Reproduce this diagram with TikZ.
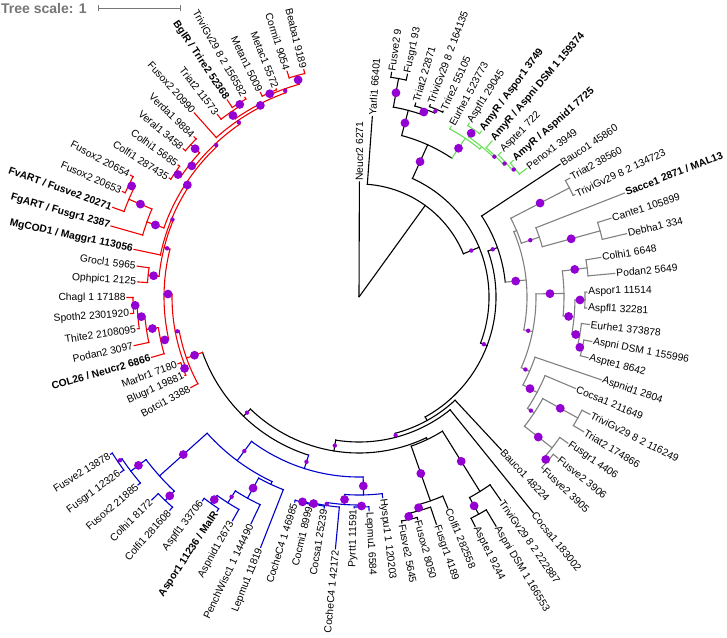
\documentclass[tikz,border=0pt]{standalone}
\usepackage{fontspec}
\setmainfont{Liberation Sans}
\definecolor{dotc}{RGB}{148,0,211}
\definecolor{cR}{RGB}{240,0,0}
\definecolor{cB}{RGB}{0,0,205}
\definecolor{cG}{RGB}{105,225,85}
\definecolor{cY}{RGB}{128,128,128}
\definecolor{cK}{RGB}{0,0,0}
\definecolor{cT}{RGB}{118,118,118}
\pgfdeclarelayer{fg}
\pgfsetlayers{main,fg}
\tikzset{
  br/.style={line width=1.1pt,line cap=rect},
  lab/.style={inner sep=1.3pt,font=\fontsize{10.3}{12}\selectfont},
}
\newcommand\setv[3]{\expandafter\xdef\csname T#1@#2\endcsname{#3}}
\newcommand\getv[2]{\csname T#1@#2\endcsname}
\newcommand\Lf[4]{%
  \pgfmathsetmacro\tmpLA{89.8-4.025*#1}%
  \setv{A}{l#1}{\tmpLA}\setv{R}{l#1}{#2}\setv{C}{l#1}{#3}\setv{D}{l#1}{0}%
  \pgfmathsetmacro\tmpLC{cos(\tmpLA)}%
  \ifdim\tmpLC pt>0pt\relax
    \node[lab,anchor=west,rotate=\tmpLA] (lab#1) at (\tmpLA:#2) {#4};%
  \else
    \pgfmathsetmacro\tmpLR{\tmpLA+180}%
    \node[lab,anchor=east,rotate=\tmpLR] (lab#1) at (\tmpLA:#2) {#4};%
  \fi}
\newcommand\In[5]{%
  \gdef\amin{1000}\gdef\amax{-1000}%
  \foreach \ch in {#5}{%
    \pgfmathsetmacro\tmpT{\getv{A}{\ch}}%
    \pgfmathsetmacro\tmpU{min(\amin,\tmpT)}\global\let\amin\tmpU
    \pgfmathsetmacro\tmpU{max(\amax,\tmpT)}\global\let\amax\tmpU
  }%
  \pgfmathsetmacro\amid{(\amin+\amax)/2}%
  \setv{A}{#1}{\amid}\setv{R}{#1}{#2}\setv{C}{#1}{#3}\setv{D}{#1}{#4}%
  \draw[br,color=#3] (\amax:#2) arc[start angle=\amax,end angle=\amin,radius=#2];
  \foreach \ch in {#5}{%
    \edef\tmpA{\getv{A}{\ch}}\edef\tmpR{\getv{R}{\ch}}%
    \edef\tmpC{\getv{C}{\ch}}\edef\tmpD{\getv{D}{\ch}}%
    \draw[br,color=\tmpC] (\tmpA:#2) -- (\tmpA:\tmpR);
    \pgfmathsetmacro\tmpM{(#2+\tmpR)/2}%
    \ifnum\tmpD=2 \begin{pgfonlayer}{fg}\fill[dotc] (\tmpA:\tmpM) circle[radius=4.4pt];\end{pgfonlayer}\fi
    \ifnum\tmpD=1 \begin{pgfonlayer}{fg}\fill[dotc] (\tmpA:\tmpM) circle[radius=2.2pt];\end{pgfonlayer}\fi
  }%
}
\begin{document}
\begin{tikzpicture}[x=1pt,y=1pt]
\useasboundingbox (0,0) rectangle (727,-637);
% tree scale
\node[anchor=west,inner sep=0pt,text=cT,font=\bfseries\fontsize{14}{16}\selectfont] (ts) at (1,-8.5) {Tree scale: 1};
\coordinate (sb1) at (98,-8.3);
\coordinate (sb2) at (180,-8.3);
\draw[cT,line width=0.8pt] (sb1) -- (sb2);
\draw[cT,line width=0.8pt] ([yshift=3pt]sb1) -- ([yshift=-3pt]sb1);
\draw[cT,line width=0.8pt] ([yshift=3pt]sb2) -- ([yshift=-3pt]sb2);
\begin{scope}[shift={(359,-297)}]
% leaves
\Lf{0}{115}{cK}{Neucr2 6271}
\Lf{1}{181}{cK}{Yarli1 66401}
\Lf{2}{227}{cK}{Fusve2 9}
\Lf{3}{228}{cK}{Fusgr1 93}
\Lf{4}{202}{cK}{Triat2 22871}
\Lf{5}{205}{cK}{TriviGv29 8 2 164135}
\Lf{6}{204}{cK}{Trire2 55105}
\Lf{7}{194}{cG}{Eurhe1 523773}
\Lf{8}{206}{cG}{Aspfl1 29045}
\Lf{9}{206}{cG}{\textbf{AmyR / Aspor1 3749}}
\Lf{10}{205}{cG}{\textbf{AmyR / Aspni DSM 1 159374}}
\Lf{11}{203}{cG}{Aspte1 722}
\Lf{12}{206}{cG}{\textbf{AmyR / Aspnid1 7725}}
\Lf{13}{211}{cG}{Penox1 3949}
\Lf{14}{241}{cK}{Bauco1 45860}
\Lf{15}{242}{cY}{Triat2 38560}
\Lf{16}{239}{cY}{TriviGv29 8 2 134723}
\Lf{17}{285}{cY}{\textbf{Sacce1 2871 / MAL13}}
\Lf{18}{264}{cY}{Cante1 105899}
\Lf{19}{275}{cY}{Debha1 334}
\Lf{20}{245}{cY}{Colhi1 6648}
\Lf{21}{257}{cY}{Podan2 5649}
\Lf{22}{228}{cY}{Aspor1 11514}
\Lf{23}{228}{cY}{Aspfl1 32281}
\Lf{24}{232}{cY}{Eurhe1 373878}
\Lf{25}{237}{cY}{Aspni DSM 1 155996}
\Lf{26}{237}{cY}{Aspte1 8642}
\Lf{27}{256}{cY}{Aspnid1 2804}
\Lf{28}{235}{cY}{Cocsa1 211649}
\Lf{29}{259}{cY}{TriviGv29 8 2 116249}
\Lf{30}{262}{cY}{Triat2 174866}
\Lf{31}{255}{cY}{Fusgr1 4406}
\Lf{32}{256}{cY}{Fusve2 3906}
\Lf{33}{252}{cY}{Fusve2 3905}
\Lf{34}{209}{cK}{Bauco1 48224}
\Lf{35}{277}{cK}{Cocsa1 183002}
\Lf{36}{248}{cK}{TriviGv29 8 2 222887}
\Lf{37}{267}{cK}{Aspni DSM 1 166553}
\Lf{38}{257}{cK}{Aspte1 9244}
\Lf{39}{229}{cK}{Colfi1 282558}
\Lf{40}{240}{cK}{Fusgr1 4189}
\Lf{41}{230}{cK}{Fusox2 8050}
\Lf{42}{230}{cK}{Fusve2 5645}
\Lf{43}{202}{cB}{Hyspu1 1 120203}
\Lf{44}{214}{cB}{Lepmu1 6584}
\Lf{45}{211}{cB}{Pyrtt1 11591}
\Lf{46}{253}{cB}{CocheC4 1 42172}
\Lf{47}{214}{cB}{Cocsa1 25239}
\Lf{48}{214}{cB}{Cocmi1 8999}
\Lf{49}{215}{cB}{CocheC4 1 46985}
\Lf{50}{269}{cB}{Lepmu1 11819}
\Lf{51}{251}{cB}{PenchWisc1 1 144490}
\Lf{52}{257}{cB}{Aspnid1 2673}
\Lf{53}{257}{cB}{\textbf{Aspor1 11236 / MalR}}
\Lf{54}{257}{cB}{Aspfl1 33706}
\Lf{55}{285}{cB}{Colfi1 281608}
\Lf{56}{290}{cB}{Colhi1 8172}
\Lf{57}{290}{cB}{Fusox2 21885}
\Lf{58}{296}{cB}{Fusgr1 12326}
\Lf{59}{294}{cB}{Fusve2 13878}
\Lf{60}{191}{cR}{Botci1 3388}
\Lf{61}{191}{cR}{Blugr1 19881}
\Lf{62}{193}{cR}{Marbr1 7180}
\Lf{63}{216}{cR}{\textbf{COL26 / Neucr2 6866}}
\Lf{64}{230}{cR}{Podan2 3097}
\Lf{65}{224}{cR}{Thite2 2108095}
\Lf{66}{229}{cR}{Spoth2 2301920}
\Lf{67}{232}{cR}{Chagl 1 17188}
\Lf{68}{222}{cR}{Ophpic1 2125}
\Lf{69}{224}{cR}{Grocl1 5965}
\Lf{70}{230}{cR}{\textbf{MgCOD1 / Maggr1 113056}}
\Lf{71}{258}{cR}{\textbf{FgART / Fusgr1 2387}}
\Lf{72}{262}{cR}{\textbf{FvART / Fusve2 20271}}
\Lf{73}{259}{cR}{Fusox2 20653}
\Lf{74}{259}{cR}{Fusox2 20654}
\Lf{75}{224}{cR}{Colfi1 287435}
\Lf{76}{224}{cR}{Colhi1 5685}
\Lf{77}{230}{cR}{Veral1 3458}
\Lf{78}{230}{cR}{Verda1 9884}
\Lf{79}{247}{cR}{Fusox2 20990}
\Lf{80}{231}{cR}{Triat2 11573}
\Lf{81}{237}{cR}{\textbf{BglR / Trire2 52368}}
\Lf{82}{230}{cR}{TriviGv29 8 2 156582}
\Lf{83}{227}{cR}{Metan1 5009}
\Lf{84}{224}{cR}{Metac1 5572}
\Lf{85}{237}{cR}{Cormi1 9054}
\Lf{86}{234}{cR}{Beaba1 9189}
% top black
\In{F2}{222}{cK}{2}{l2,l3}
\In{F4}{203}{cK}{1}{l5,l6}
\In{F3}{199}{cK}{2}{l4,F4}
\In{F1}{193}{cK}{2}{F2,F3}
% green
\In{G6}{202}{cG}{1}{l12,l13}
\In{G5}{199}{cG}{1}{l11,G6}
\In{G4}{196}{cG}{1}{l10,G5}
\In{G3}{203}{cG}{2}{l8,l9}
\In{G2}{194}{cG}{0}{G3,G4}
\In{G1}{191}{cG}{2}{l7,G2}
\In{P}{167}{cK}{2}{F1,G1}
% gray
\In{GA}{237}{cY}{2}{l15,l16}
\In{GD}{250}{cY}{2}{l18,l19}
\In{GC}{190}{cY}{1}{l17,GD}
\In{GB}{171}{cY}{0}{GA,GC}
\In{GE}{230}{cY}{2}{l20,l21}
\In{GFb}{226}{cY}{2}{l22,l23}
\In{GFe}{229}{cY}{2}{l25,l26}
\In{GFd}{224}{cY}{2}{l24,GFe}
\In{GFc}{216}{cY}{2}{GFb,GFd}
\In{GF}{205}{cY}{2}{GE,GFc}
\In{GN}{250}{cY}{2}{l29,l30}
\In{GR}{250}{cY}{2}{l32,l33}
\In{GQ}{245}{cY}{2}{l31,GR}
\In{GO}{210}{cY}{1}{GN,GQ}
\In{GP}{202}{cY}{2}{l28,GO}
\In{GK}{186}{cY}{1}{l27,GP}
\In{GL}{177}{cY}{1}{GF,GK}
\In{GM}{168}{cY}{2}{GB,GL}
\In{R}{147}{cK}{1}{l14,GM}
% bottom black
\In{AspY}{248}{cK}{2}{l37,l38}
\In{ASP}{229}{cK}{2}{l36,AspY}
\In{FusY}{228}{cK}{2}{l41,l42}
\In{FusX}{222}{cK}{2}{l40,FusY}
\In{FUS}{216}{cK}{2}{l39,FusX}
\In{LC}{158}{cK}{0}{ASP,FUS}
% blue
\In{BL}{210}{cB}{2}{l44,l45}
\In{BHa}{213}{cB}{2}{l48,l49}
\In{BHb}{212}{cB}{2}{l47,BHa}
\In{BHc}{211}{cB}{1}{l46,BHb}
\In{BHd}{208}{cB}{2}{BL,BHc}
\In{BHe}{198}{cB}{2}{l43,BHd}
\In{BPC}{254}{cB}{2}{l53,l54}
\In{BPB}{244}{cB}{1}{l52,BPC}
\In{BPA}{230}{cB}{2}{l51,BPB}
\In{BP}{207}{cB}{0}{BPA,l50}
\In{BCt}{281}{cB}{2}{l55,l56}
\In{BFv}{292}{cB}{1}{l58,l59}
\In{BFu}{287}{cB}{2}{l57,BFv}
\In{BF}{268}{cB}{2}{BCt,BFu}
\In{BQ}{204}{cB}{1}{BP,BF}
\In{Bz}{180}{cB}{1}{BHe,BQ}
% red
\In{RCo}{230}{cR}{2}{l85,l86}
\In{RMe}{223}{cR}{2}{l83,l84}
\In{RMC}{221}{cR}{1}{RMe,RCo}
\In{RTa}{228}{cR}{2}{l81,l82}
\In{RTb}{225}{cR}{2}{l80,RTa}
\In{RTM}{217}{cR}{2}{RTb,RMC}
\In{RX}{214}{cR}{1}{l79,RTM}
\In{RC}{222}{cR}{2}{l75,l76}
\In{RV}{227}{cR}{2}{l77,l78}
\In{RCV}{215}{cR}{2}{RC,RV}
\In{RY}{210}{cR}{1}{RCV,RX}
\In{RFa}{256}{cR}{2}{l73,l74}
\In{RFb}{250}{cR}{2}{l72,RFa}
\In{RFc}{225}{cR}{2}{l71,RFb}
\In{RZ}{207}{cR}{2}{RFc,RY}
\In{RW}{203}{cR}{1}{l70,RZ}
\In{ROG}{212}{cR}{2}{l68,l69}
\In{RVb}{201}{cR}{1}{ROG,RW}
\In{RSa}{226}{cR}{2}{l66,l67}
\In{RSb}{222}{cR}{2}{l65,RSa}
\In{RSc}{215}{cR}{2}{l64,RSb}
\In{RSd}{203}{cR}{2}{l63,RSc}
\In{RU}{195}{cR}{2}{RSd,RVb}
\In{RBM}{190}{cR}{2}{l61,l62}
\In{RRr}{187}{cR}{1}{RBM,RU}
\In{Rz}{183}{cR}{2}{l60,RRr}
% backbone
\In{LD}{166}{cK}{1}{Bz,Rz}
\In{LB}{156}{cK}{1}{LC,LD}
\In{LA}{145}{cK}{1}{l35,LB}
\In{La}{141}{cK}{0}{l34,LA}
\In{W}{137}{cK}{1}{R,La}
\In{Q}{130}{cK}{1}{P,W}
\In{N1}{113}{cK}{0}{l1,Q}
\In{root}{0.5}{cK}{0}{l0,N1}
\end{scope}
\end{tikzpicture}
\end{document}
